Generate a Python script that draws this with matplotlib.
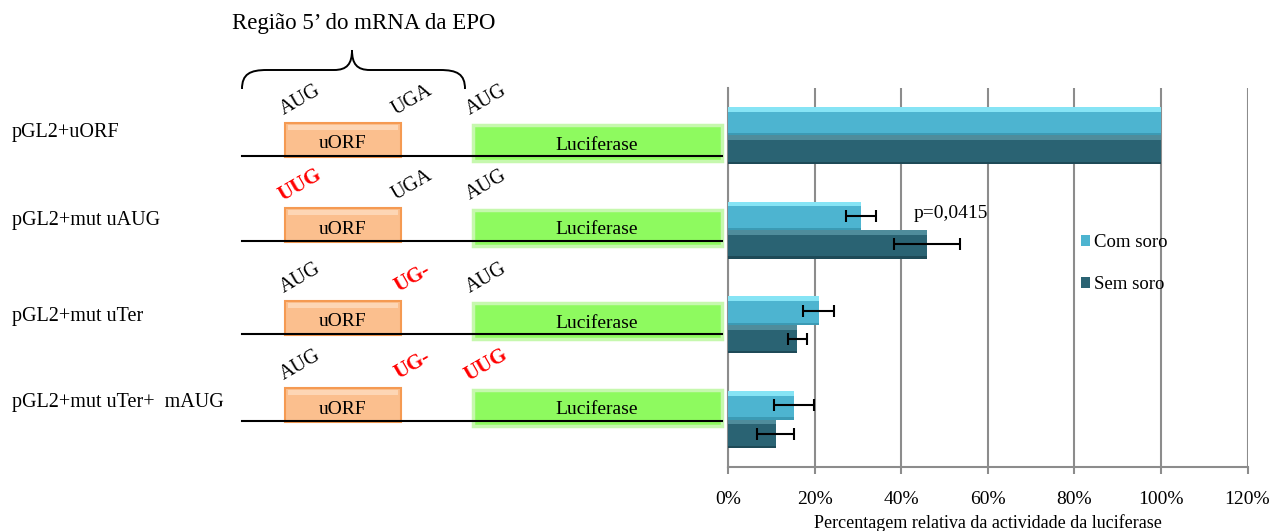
import matplotlib
matplotlib.use("Agg")
import matplotlib.pyplot as plt
from matplotlib.patches import PathPatch, Rectangle
from matplotlib.path import Path
import numpy as np

plt.rcParams['font.family'] = ['Liberation Serif', 'DejaVu Serif']

# data
constructs = ['pGL2+uORF', 'pGL2+mut uAUG', 'pGL2+mut uTer', 'pGL2+mut uTer+  mAUG']
com_soro = [100, 30.7, 21.0, 15.3]
sem_soro = [100, 46.0, 16.0, 11.0]
com_err = [0, 3.5, 3.6, 4.6]
sem_err = [0, 7.7, 2.2, 4.3]
xticks = [0, 20, 40, 60, 80, 100, 120]
series_names = ['Com soro', 'Sem soro']
# codons above each construct: (text, mutated?)
codons = [
    [('AUG', False), ('UGA', False), ('AUG', False)],
    [('UUG', True), ('UGA', False), ('AUG', False)],
    [('AUG', False), ('UG-', True), ('AUG', False)],
    [('AUG', False), ('UG-', True), ('UUG', True)],
]

W, H = 1271, 531
fig = plt.figure(figsize=(W / 100, H / 100), dpi=100)

# ---- bar chart ----
ax = fig.add_axes([728 / W, 1 - 467 / H, (1247.5 - 728) / W, (467 - 88) / H])
y = np.arange(len(constructs))
h = 0.3
c_com, c_com_hi = '#4DB4D0', '#86E4F5'
c_sem, c_sem_hi = '#2A6373', '#4F8C9B'

ax.barh(y - h / 2, com_soro, height=h, color=c_com, zorder=3, label=series_names[0])
ax.barh(y + h / 2, sem_soro, height=h, color=c_sem, zorder=3, label=series_names[1])
# bevel highlights
ax.barh(y - h + 0.025, com_soro, height=0.05, color=c_com_hi, zorder=4, lw=0)
ax.barh(y + 0.025, sem_soro, height=0.05, color=c_sem_hi, zorder=4, lw=0)
ax.barh(y - 0.012, com_soro, height=0.024, color='#3B9AB4', zorder=4, lw=0)
ax.barh(y + h - 0.012, sem_soro, height=0.024, color='#1E4A57', zorder=4, lw=0)

ax.errorbar(com_soro[1:], y[1:] - h / 2, xerr=com_err[1:], fmt='none',
            ecolor='black', elinewidth=1.5, capsize=4, capthick=1.5, zorder=5)
ax.errorbar(sem_soro[1:], y[1:] + h / 2, xerr=sem_err[1:], fmt='none',
            ecolor='black', elinewidth=1.5, capsize=4, capthick=1.5, zorder=5)

ax.set_ylim(3.5, -0.5)
ax.set_xlim(0, 120)
ax.set_xticks(xticks)
ax.set_xticklabels([f'{t}%' for t in xticks], fontsize=14)
ax.set_yticks([])
ax.grid(axis='x', color='#8C8C8C', lw=1.5, zorder=0)
for s in ['top', 'right']:
    ax.spines[s].set_visible(False)
for s in ['left', 'bottom']:
    ax.spines[s].set_color('#8C8C8C')
    ax.spines[s].set_linewidth(1.5)
ax.tick_params(axis='x', length=5, width=1.5, color='#8C8C8C', pad=12)
ax.set_xlabel('Percentagem relativa da actividade da luciferase', fontsize=13, labelpad=5)
ax.text(51.5, 0.82, 'p=0,0415', fontsize=14, ha='center', va='center', zorder=6)
leg = ax.legend(loc='upper left', bbox_to_anchor=(0.665, 0.635), frameon=False,
                fontsize=13.5, handlelength=0.5, handleheight=0.5,
                handletextpad=0.2, labelspacing=1.35, borderaxespad=0)

# ---- construct diagrams (pixel coordinates) ----
dax = fig.add_axes([0, 0, 1, 1], zorder=-1)
dax.set_xlim(0, W)
dax.set_ylim(H, 0)
dax.axis('off')

dax.text(364, 24, 'Região 5\u2019 do mRNA da EPO', fontsize=16.5, ha='center', va='center')

# brace
bx0, bx1, bm, ytop, ybot, ytip = 242, 465, 352, 70, 89, 50
verts = [(bx0, ybot), (bx0, ytop + 4), (bx0 + 8, ytop), (bx0 + 25, ytop),
         (bm - 18, ytop), (bm - 5, ytop), (bm, ytop - 6), (bm, ytip),
         (bm, ytop - 6), (bm + 5, ytop), (bm + 18, ytop),
         (bx1 - 25, ytop), (bx1 - 8, ytop), (bx1, ytop + 4), (bx1, ybot)]
codes = [Path.MOVETO, Path.CURVE4, Path.CURVE4, Path.CURVE4,
         Path.LINETO, Path.CURVE4, Path.CURVE4, Path.CURVE4,
         Path.CURVE4, Path.CURVE4, Path.CURVE4,
         Path.LINETO, Path.CURVE4, Path.CURVE4, Path.CURVE4]
dax.add_patch(PathPatch(Path(verts, codes), fill=False, lw=1.4, color='black'))

line_y = [156, 241, 334, 421]
label_y = [133, 220, 316, 402]
codon_x = [300, 412, 486]
for i, name in enumerate(constructs):
    ly = line_y[i]
    dax.text(12, label_y[i], name, fontsize=14.5, ha='left', va='center')
    # uORF box
    dax.add_patch(Rectangle((285, ly - 33), 116, 34, facecolor='#FBBF8E',
                            edgecolor='#F59A52', lw=1.5, zorder=2))
    dax.add_patch(Rectangle((288, ly - 31), 110, 5, facecolor='#FDD6B5',
                            edgecolor='none', zorder=2))
    dax.text(343, ly - 12, 'uORF', fontsize=14, ha='center', va='center', zorder=3)
    # luciferase box
    dax.add_patch(Rectangle((473, ly - 31), 249, 36, facecolor='#8EFA5F',
                            edgecolor='#C6F8AE', lw=2.5, zorder=2))
    dax.text(597, ly - 11, 'Luciferase', fontsize=14, ha='center', va='center', zorder=3)
    # mRNA line
    dax.plot([242, 722], [ly, ly], color='black', lw=1.5, zorder=4)
    # codons
    for (txt, mut), cx in zip(codons[i], codon_x):
        dax.text(cx, ly - 56, txt, fontsize=15 if mut else 14.5, rotation=30,
                 ha='center', va='center', color='red' if mut else 'black',
                 fontweight='bold' if mut else 'normal')

fig.savefig('out.png', dpi=100)
